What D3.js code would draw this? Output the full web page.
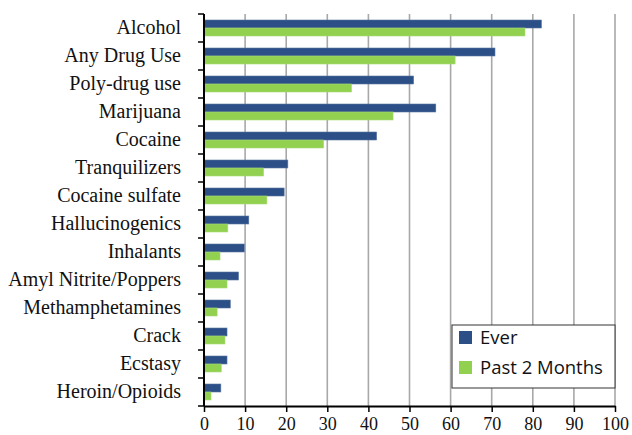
<!DOCTYPE html>
<html>
<head>
<meta charset="utf-8">
<script src="https://cdn.jsdelivr.net/npm/d3@7"></script>
<style>
  body { margin: 0; background: #fff; }
  svg { display: block; }
</style>
</head>
<body>
<div id="chart"></div>
<script>
var categories = ["Alcohol", "Any Drug Use", "Poly-drug use", "Marijuana", "Cocaine",
  "Tranquilizers", "Cocaine sulfate", "Hallucinogenics", "Inhalants",
  "Amyl Nitrite/Poppers", "Methamphetamines", "Crack", "Ecstasy", "Heroin/Opioids"];
var ever = [82.1, 70.8, 51.0, 56.4, 42.0, 20.4, 19.5, 10.9, 9.8, 8.4, 6.4, 5.6, 5.6, 4.1];
var past2Months = [78.1, 61.1, 35.9, 46.0, 29.1, 14.5, 15.3, 5.8, 3.9, 5.6, 3.2, 5.1, 4.2, 1.7];
var seriesNames = ["Ever", "Past 2 Months"];
var xTicks = [0, 10, 20, 30, 40, 50, 60, 70, 80, 90, 100];

var colors = ["#2b4f86", "#92d050"];

var margin = {top: 14, right: 17, bottom: 29, left: 204},
    width = 632 - margin.left - margin.right,
    height = 435 - margin.top - margin.bottom;

var svg = d3.select("#chart").append("svg")
    .attr("width", width + margin.left + margin.right)
    .attr("height", height + margin.top + margin.bottom)
  .append("g")
    .attr("transform", "translate(" + margin.left + "," + margin.top + ")");

var x = d3.scaleLinear().domain([0, 100]).range([0, width]);
var y = d3.scaleBand().domain(categories).range([0, height]);

var data = categories.map(function(c, i) {
  return {cat: c, values: [ever[i], past2Months[i]]};
});

// gridlines
svg.selectAll(".grid")
    .data(xTicks.slice(1))
  .enter().append("line")
    .attr("class", "grid")
    .attr("x1", function(d) { return x(d); })
    .attr("x2", function(d) { return x(d); })
    .attr("y1", 0)
    .attr("y2", height)
    .attr("stroke", "#a8a8a8")
    .attr("stroke-width", 1.6);

var barH = 8;
var groups = svg.selectAll(".grp")
    .data(data)
  .enter().append("g")
    .attr("class", "grp")
    .attr("transform", function(d) { return "translate(0," + (y(d.cat) + y.bandwidth() / 2 - barH) + ")"; });

groups.selectAll("rect")
    .data(function(d) { return d.values; })
  .enter().append("rect")
    .attr("x", x(0))
    .attr("y", function(d, i) { return i * barH; })
    .attr("width", function(d) { return x(d) - x(0); })
    .attr("height", barH)
    .attr("fill", function(d, i) { return colors[i]; })
    .attr("stroke", function(d, i) { return i === 0 ? "#5a77a3" : "#a8da75"; })
    .attr("stroke-width", 0.6);

// y axis
var yAxis = svg.append("g")
    .call(d3.axisLeft(y).tickSize(0).tickPadding(23));
yAxis.select(".domain").remove();
yAxis.selectAll("text")
    .style("font-family", "Liberation Serif, Times New Roman, serif")
    .style("font-size", "20px")
    .attr("fill", "#111");

// category boundary ticks
var bounds = categories.map(function(c) { return y(c); }).concat([height]);
svg.selectAll(".ytick")
    .data(bounds)
  .enter().append("line")
    .attr("x1", -6).attr("x2", 0)
    .attr("y1", function(d) { return d; })
    .attr("y2", function(d) { return d; })
    .attr("stroke", "#000")
    .attr("stroke-width", 1.5);

svg.append("line")
    .attr("x1", 0).attr("x2", 0)
    .attr("y1", 0).attr("y2", height)
    .attr("stroke", "#000")
    .attr("stroke-width", 2);

// x axis
var xAxis = svg.append("g")
    .attr("transform", "translate(0," + height + ")")
    .call(d3.axisBottom(x).tickValues(xTicks).tickSize(6).tickPadding(5).tickSizeOuter(0));
xAxis.select(".domain").attr("stroke-width", 2);
xAxis.selectAll(".tick line").attr("stroke-width", 1.5);
xAxis.selectAll("text")
    .style("font-family", "Liberation Serif, Times New Roman, serif")
    .style("font-size", "18px")
    .attr("fill", "#111");

// legend
var legend = svg.append("g")
    .attr("transform", "translate(" + (452 - margin.left) + "," + (325 - margin.top) + ")");
legend.append("rect")
    .attr("width", 163)
    .attr("height", 63)
    .attr("fill", "#fff")
    .attr("stroke", "#333")
    .attr("stroke-width", 1);

var items = legend.selectAll(".legend")
    .data(seriesNames)
  .enter().append("g")
    .attr("class", "legend")
    .attr("transform", function(d, i) { return "translate(7," + (6 + i * 30) + ")"; });
items.append("rect")
    .attr("width", 13)
    .attr("height", 13)
    .attr("fill", function(d, i) { return colors[i]; });
items.append("text")
    .attr("x", 21)
    .attr("y", 13)
    .style("font-family", "Open Sans, Noto Sans, sans-serif")
    .style("font-size", "18.5px")
    .attr("fill", "#111")
    .text(function(d) { return d; });
</script>
</body>
</html>
